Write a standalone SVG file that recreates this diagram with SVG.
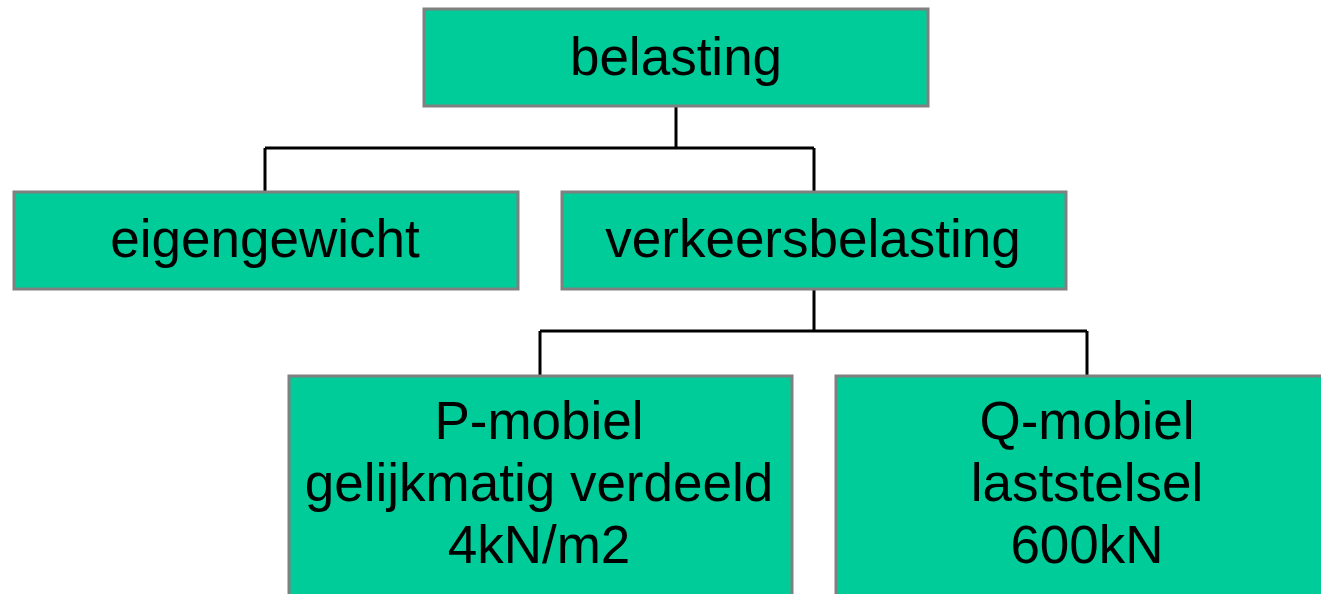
<svg xmlns="http://www.w3.org/2000/svg" width="1321" height="594" viewBox="0 0 1321 594">
  <style>
    .box { fill: #00CC99; stroke: #808080; stroke-width: 3; }
    .lbl { font-family: "Liberation Sans", Arial, sans-serif; font-size: 53px; fill: #000; text-anchor: middle; }
    .wire { fill: none; stroke: #000; stroke-width: 3; }
  </style>
  <rect width="1321" height="594" fill="#ffffff"/>

  <!-- connectors -->
  <g id="connectors">
    <path class="wire" d="M676 106 V148 M265 148 H814 M265 148 V191 M814 148 V191"/>
    <path class="wire" d="M814 289 V331 M540 331 H1087 M540 331 V375 M1087 331 V375"/>
  </g>

  <g id="belasting">
    <rect class="box" x="424" y="9" width="504" height="97"/>
    <text class="lbl" x="676" y="75">belasting</text>
  </g>

  <g id="eigengewicht">
    <rect class="box" x="14" y="192" width="504" height="97"/>
    <text class="lbl" x="265" y="257">eigengewicht</text>
  </g>

  <g id="verkeersbelasting">
    <rect class="box" x="562" y="192" width="504" height="97"/>
    <text class="lbl" x="813" y="257">verkeersbelasting</text>
  </g>

  <g id="p-mobiel">
    <rect class="box" x="289" y="376" width="503" height="230"/>
    <text class="lbl" x="539" y="439">P-mobiel</text>
    <text class="lbl" x="539" y="501">gelijkmatig verdeeld</text>
    <text class="lbl" x="539" y="563">4kN/m2</text>
  </g>

  <g id="q-mobiel">
    <rect class="box" x="836" y="376" width="503" height="230"/>
    <text class="lbl" x="1087" y="439">Q-mobiel</text>
    <text class="lbl" x="1087" y="501">laststelsel</text>
    <text class="lbl" x="1087" y="563">600kN</text>
  </g>
</svg>
